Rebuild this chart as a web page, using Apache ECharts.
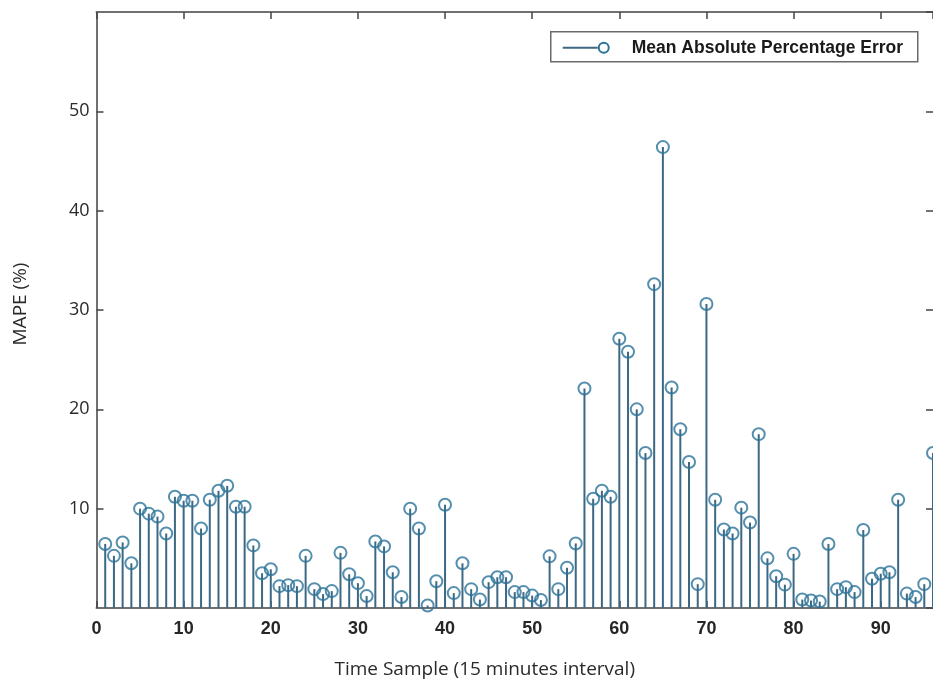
<!DOCTYPE html>
<html>
<head>
<meta charset="utf-8">
<title>MAPE per time sample</title>
<script src="https://cdn.jsdelivr.net/npm/echarts@6/dist/echarts.min.js"></script>
<style>
  html, body { margin: 0; padding: 0; background: #ffffff; }
  #chart { width: 933px; height: 687px; }
</style>
</head>
<body>
<div id="chart"></div>
<script>
// Mean absolute percentage error (%) for each 15-minute time sample (1..96)
const mapeValues = [
  6.45, 5.25, 6.6, 4.5, 10.0, 9.5, 9.2, 7.5, 11.2, 10.8,
  10.8, 8.0, 10.9, 11.8, 12.3, 10.2, 10.2, 6.3, 3.5, 3.9,
  2.2, 2.3, 2.2, 5.25, 1.9, 1.4, 1.7, 5.55, 3.4, 2.5,
  1.2, 6.7, 6.2, 3.6, 1.1, 10.0, 8.0, 0.25, 2.7, 10.4,
  1.5, 4.5, 1.9, 0.85, 2.6, 3.1, 3.1, 1.6, 1.6, 1.25,
  0.8, 5.2, 1.9, 4.05, 6.5, 22.1, 11.0, 11.8, 11.2, 27.1,
  25.8, 20.0, 15.6, 32.6, 46.4, 22.2, 18.0, 14.7, 2.4, 30.6,
  10.9, 7.9, 7.5, 10.1, 8.6, 17.5, 5.0, 3.2, 2.35, 5.45,
  0.85, 0.75, 0.65, 6.45, 1.9, 2.1, 1.6, 7.85, 2.95, 3.45,
  3.6, 10.9, 1.45, 1.1, 2.4, 15.6
];
// time sample number for each value
const timeSamples = mapeValues.map((v, i) => i + 1);

const seriesName = 'Mean Absolute Percentage Error';
const xTitle = 'Time Sample (15 minutes interval)';
const yTitle = 'MAPE (%)';

const stemData = timeSamples.map((t, i) => [t, mapeValues[i]]);

const axisGray = '#707070';
const stemColor = '#3d6883';
const markerColor = '#2b7399';

const chart = echarts.init(document.getElementById('chart'), null, { renderer: 'canvas' });

chart.setOption({
  backgroundColor: '#ffffff',
  animation: false,
  // the plot box runs slightly past the right edge of the page
  grid: { left: 96.5, top: 12, width: 840, height: 596, containLabel: false },
  xAxis: [
    {
      type: 'value', position: 'bottom', min: 0, max: 96, interval: 10,
      name: xTitle, nameLocation: 'middle', nameGap: 52,
      nameTextStyle: { fontFamily: 'Open Sans', fontSize: 19, color: '#2a2a2a', padding: [0, 60, 0, 0] },
      axisLine: { show: true, onZero: false, lineStyle: { color: axisGray, width: 2 } },
      axisTick: { show: true, inside: true, length: 7, lineStyle: { color: '#444', width: 1.5 } },
      axisLabel: {
        showMaxLabel: false, margin: 12,
        fontFamily: 'Liberation Sans', fontWeight: 'bold', fontSize: 18, color: '#262626'
      },
      splitLine: { show: false }
    },
    {
      type: 'value', position: 'top', min: 0, max: 96, interval: 10,
      axisLine: { show: true, onZero: false, lineStyle: { color: axisGray, width: 2 } },
      axisTick: { show: true, inside: true, length: 7, lineStyle: { color: '#444', width: 1.5 } },
      axisLabel: { show: false },
      splitLine: { show: false }
    }
  ],
  yAxis: [
    {
      type: 'value', position: 'left', min: 0, max: 60, interval: 10,
      name: yTitle, nameLocation: 'middle', nameGap: 66, nameRotate: 90,
      nameTextStyle: { fontFamily: 'Open Sans', fontSize: 19, color: '#2a2a2a', padding: [0, 0, 0, 12] },
      axisLine: { show: true, onZero: false, lineStyle: { color: axisGray, width: 2 } },
      axisTick: { show: true, inside: true, length: 7, lineStyle: { color: '#444', width: 1.5 } },
      axisLabel: {
        showMinLabel: false, showMaxLabel: false, margin: 7,
        fontFamily: 'Open Sans', fontSize: 18, color: '#2a2a2a'
      },
      splitLine: { show: false }
    },
    {
      // right edge: only the inward ticks fall inside the page
      type: 'value', position: 'right', min: 0, max: 60, interval: 10,
      axisLine: { show: false, onZero: false },
      axisTick: { show: true, inside: true, length: 7, lineStyle: { color: '#444', width: 1.5 } },
      axisLabel: { show: false },
      splitLine: { show: false }
    }
  ],
  series: [
    {
      // stems
      name: seriesName, type: 'bar', xAxisIndex: 0, yAxisIndex: 0,
      data: stemData, barWidth: 2, z: 2,
      itemStyle: { color: stemColor },
      silent: true
    },
    {
      // open circle markers on top of each stem
      name: seriesName, type: 'scatter', xAxisIndex: 0, yAxisIndex: 0,
      data: stemData, symbol: 'circle', symbolSize: 12, z: 3,
      itemStyle: { color: 'rgba(255,255,255,0)', borderColor: markerColor, borderWidth: 2 },
      silent: true
    }
  ],
  graphic: [
    {
      type: 'group', left: 550, top: 31,
      children: [
        { type: 'rect', shape: { x: 0, y: 0, width: 367, height: 30 },
          style: { fill: '#ffffff', stroke: '#6a6a6a', lineWidth: 1.5 } },
        { type: 'line', shape: { x1: 12, y1: 16, x2: 47, y2: 16 },
          style: { stroke: stemColor, lineWidth: 2 } },
        { type: 'circle', shape: { cx: 53, cy: 16, r: 5 },
          style: { fill: 'none', stroke: markerColor, lineWidth: 2 } },
        { type: 'text', x: 81, y: 16,
          style: { text: seriesName, fontFamily: 'Liberation Sans', fontWeight: 'bold',
                   fontSize: 17.5, fill: '#1a1a1a', verticalAlign: 'middle', align: 'left' } }
      ]
    }
  ]
});
</script>
</body>
</html>
